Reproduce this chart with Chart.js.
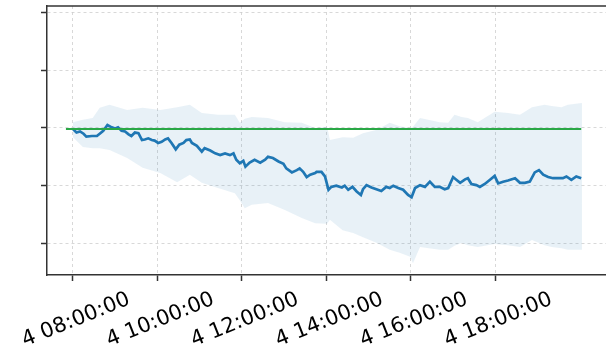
<!DOCTYPE html>
<html>
<head>
<meta charset="utf-8">
<script src="https://cdn.jsdelivr.net/npm/chart.js@4.4.1/dist/chart.umd.min.js"></script>
<style>
  html, body { margin: 0; padding: 0; background: #ffffff; overflow: hidden; }
  #wrap { width: 606px; height: 352px; }
</style>
</head>
<body>
<div id="wrap"><canvas id="c" width="606" height="352"></canvas></div>
<script>
// Time in minutes after 08:00 on day 4
const blueMinutes = [0,5,10,15,19,27,34,38,43,49,55,60,64,69,74,79,83,88,93,98,
  102,107,112,116,121,126,131,135,140,146,151,157,161,166,169,176,183,187,195,202,
  209,216,223,228,232,237,242,245,251,258,266,273,277,284,292,299,303,311,318,322,
  327,332,337,344,346,353,358,363,367,374,382,386,391,397,403,409,412,417,424,431,
  438,445,450,455,462,469,476,481,486,493,500,507,514,521,528,533,540,545,550,557,
  561,566,573,578,585,592,599,604,611,618,628,635,642,649,656,662,668,675,682,689,
  696,701,708,715,722];
const blueValues = [-0.02,-0.08,-0.06,-0.10,-0.15,-0.14,-0.14,-0.10,-0.05,0.05,
  0.01,-0.01,0.01,-0.05,-0.06,-0.11,-0.14,-0.08,-0.09,-0.21,
  -0.20,-0.18,-0.21,-0.22,-0.26,-0.24,-0.20,-0.18,-0.26,-0.37,
  -0.29,-0.26,-0.21,-0.20,-0.26,-0.31,-0.41,-0.35,-0.39,-0.44,
  -0.47,-0.44,-0.47,-0.44,-0.55,-0.61,-0.57,-0.67,-0.60,-0.55,
  -0.60,-0.55,-0.50,-0.52,-0.58,-0.62,-0.70,-0.77,-0.73,-0.70,
  -0.76,-0.85,-0.81,-0.78,-0.76,-0.76,-0.84,-1.07,-1.02,-1.00,
  -1.03,-1.00,-1.07,-1.02,-1.10,-1.16,-1.06,-0.99,-1.03,-1.06,
  -1.09,-1.02,-1.04,-1.00,-1.04,-1.07,-1.16,-1.20,-1.04,-0.99,
  -1.02,-0.93,-1.02,-1.02,-1.06,-1.04,-0.85,-0.90,-0.95,-0.89,
  -0.87,-0.97,-0.99,-1.02,-0.97,-0.90,-0.83,-0.96,-0.93,-0.91,
  -0.87,-0.95,-0.95,-0.93,-0.77,-0.73,-0.81,-0.85,-0.87,-0.87,
  -0.87,-0.84,-0.90,-0.84,-0.87];

const bandMinutes = [0,14,28,38,52,77,99,124,148,166,
  183,206,230,237,244,254,277,301,325,344,
  361,365,383,398,412,432,450,464,479,483,
  493,521,533,542,552,561,575,599,618,635,
  652,670,680,694,703,723];
const bandUpper = [0.10,0.14,0.17,0.35,0.40,0.31,0.35,0.31,0.36,0.40,
  0.26,0.23,0.23,0.09,0.16,0.19,0.17,0.10,0.09,0.00,
  0.02,-0.21,-0.16,-0.17,-0.09,-0.03,0.09,0.03,0.00,0.02,
  0.17,0.10,0.09,0.23,0.19,0.17,0.10,0.28,0.26,0.23,
  0.36,0.40,0.38,0.36,0.40,0.43];
const bandLower = [-0.16,-0.33,-0.35,-0.35,-0.38,-0.52,-0.69,-0.78,-0.94,-0.81,
  -0.95,-1.04,-1.13,-1.25,-1.39,-1.33,-1.30,-1.42,-1.56,-1.65,
  -1.66,-1.59,-1.77,-1.82,-1.89,-1.99,-2.11,-2.16,-2.23,-2.34,
  -2.06,-2.11,-2.11,-2.04,-1.99,-2.03,-2.06,-2.01,-2.03,-2.06,
  -1.94,-2.03,-2.06,-2.08,-2.11,-2.11];

const greenMinutes = [-10, 722];
const greenValues = [-0.02, -0.02];

const xTickHours = [8, 10, 12, 14, 16, 18];
const xTickLabels = ['4 08:00:00','4 10:00:00','4 12:00:00','4 14:00:00','4 16:00:00','4 18:00:00'];
const yTickValues = [-2, -1, 0, 1, 2];

const toPts = (mins, vals) => mins.map((m, i) => ({ x: 8 + m / 60, y: vals[i] }));

const topSpine = {
  id: 'topSpine',
  afterDatasetsDraw(chart) {
    const { ctx, chartArea } = chart;
    ctx.save();
    ctx.strokeStyle = '#333333';
    ctx.lineWidth = 1.5;
    ctx.beginPath();
    ctx.moveTo(chartArea.left - 0.75, chartArea.top);
    ctx.lineTo(chartArea.right, chartArea.top);
    ctx.stroke();
    ctx.restore();
  }
};

new Chart(document.getElementById('c'), {
  type: 'line',
  data: {
    datasets: [
      { data: toPts(bandMinutes, bandUpper), borderWidth: 0, pointRadius: 0,
        backgroundColor: 'rgba(31,119,180,0.10)', fill: '+1', order: 3 },
      { data: toPts(bandMinutes, bandLower), borderWidth: 0, pointRadius: 0,
        fill: false, order: 3 },
      { data: toPts(blueMinutes, blueValues), borderColor: '#1f77b4', borderWidth: 2.7,
        pointRadius: 0, fill: false, tension: 0, order: 2 },
      { data: toPts(greenMinutes, greenValues), borderColor: '#2aa846', borderWidth: 2,
        pointRadius: 0, fill: false, order: 1 }
    ]
  },
  options: {
    responsive: false,
    devicePixelRatio: 1,
    animation: false,
    layout: { padding: { top: 6, left: 0, right: 0, bottom: 0 } },
    plugins: { legend: { display: false }, tooltip: { enabled: false }, title: { display: false } },
    scales: {
      x: {
        type: 'linear',
        min: 7.385,
        max: 20.62,
        afterBuildTicks(scale) { scale.ticks = xTickHours.map(v => ({ value: v })); },
        afterFit(scale) {
          scale.height = 77;
          scale.paddingLeft = 0; scale.paddingRight = 0;
        },
        ticks: {
          autoSkip: false,
          minRotation: 22,
          maxRotation: 22,
          labelOffset: 56,
          padding: 6,
          color: '#000000',
          font: { family: 'DejaVu Sans', size: 21 },
          callback(value) {
            const i = xTickHours.indexOf(value);
            return i >= 0 ? xTickLabels[i] : '';
          }
        },
        grid: {
          color: '#cfcfcf', lineWidth: 0.8,
          tickLength: 6, tickColor: '#333333', tickWidth: 1.5, tickBorderDash: []
        },
        border: { display: true, color: '#333333', width: 1.5, dash: [3, 3] }
      },
      y: {
        type: 'linear',
        min: -2.545,
        max: 2.11,
        afterBuildTicks(scale) { scale.ticks = yTickValues.map(v => ({ value: v })); },
        afterFit(scale) {
          scale.width = 47;
          scale.paddingTop = 0; scale.paddingBottom = 0;
        },
        ticks: { display: false },
        grid: {
          color: '#cfcfcf', lineWidth: 0.8,
          tickLength: 6, tickColor: '#333333', tickWidth: 1.5, tickBorderDash: []
        },
        border: { display: true, color: '#333333', width: 1.5, dash: [3, 3] }
      }
    }
  },
  plugins: [topSpine]
});
</script>
</body>
</html>
